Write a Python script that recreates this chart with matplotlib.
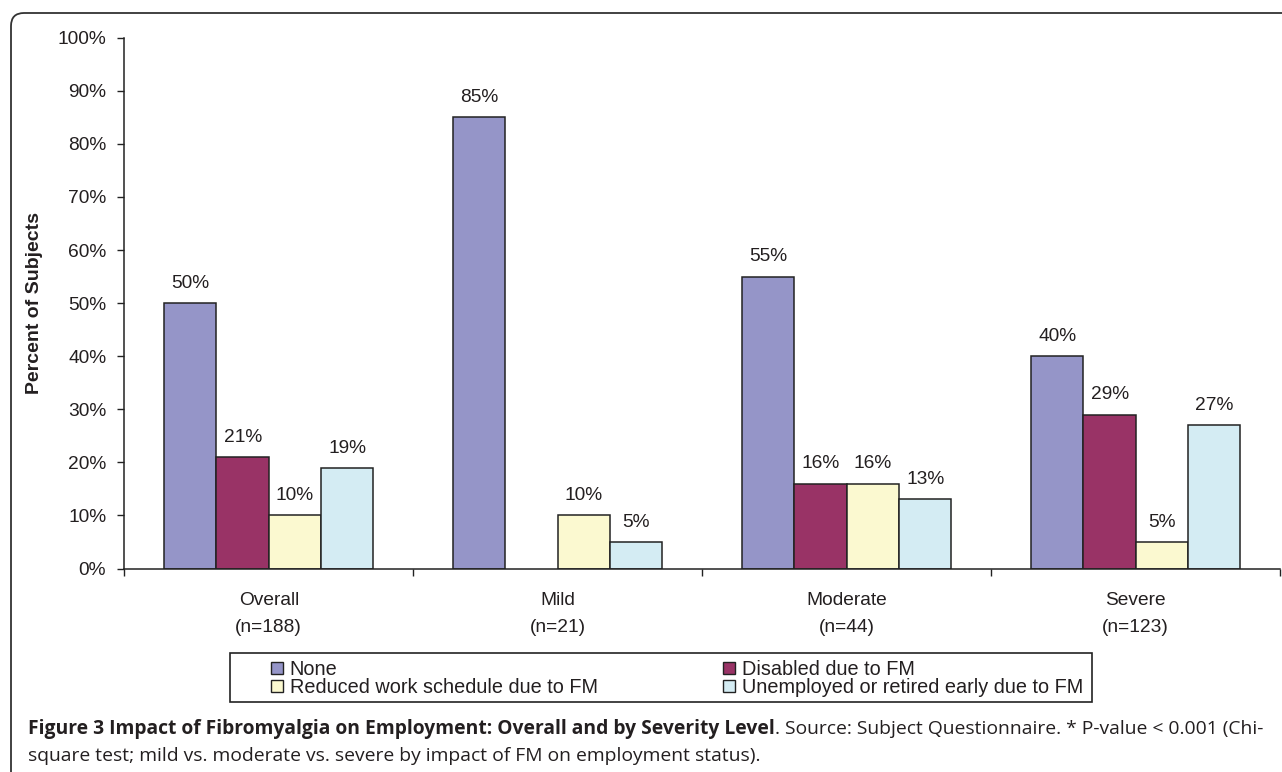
import numpy as np
import matplotlib
matplotlib.use('Agg')
import matplotlib.pyplot as plt
from matplotlib.patches import Patch, Rectangle, FancyBboxPatch

plt.rcParams['font.family'] = ['Liberation Sans', 'DejaVu Sans']

#chart data
categories = ['Overall\n(n=188)', 'Mild\n(n=21)', 'Moderate\n(n=44)', 'Severe\n(n=123)']
series_names = ['None', 'Disabled due to FM', 'Reduced work schedule due to FM',
                'Unemployed or retired early due to FM']
none_vals = [50, 85, 55, 40]
disabled_vals = [21, 0, 16, 29]
reduced_vals = [10, 10, 16, 5]
unemployed_vals = [19, 5, 13, 27]
yticks = [0, 10, 20, 30, 40, 50, 60, 70, 80, 90, 100]

colors = ['#9595c8', '#993366', '#fbf9d0', '#d4ecf3']
txt = '#231f20'

W, H = 1282, 772
fig = plt.figure(figsize=(W/100, H/100), dpi=100)
ax = fig.add_axes([124.3/W, 1-568.5/H, 1156/W, 530.8/H])

x = np.arange(len(categories))
w = 0.181
all_vals = [none_vals, disabled_vals, reduced_vals, unemployed_vals]
for i, vals in enumerate(all_vals):
    pos = x + (i - 1.5)*w
    for p, v in zip(pos, vals):
        if v == 0:
            continue
        ax.bar(p, v, width=w, color=colors[i], edgecolor='#222222', linewidth=1.1)
        ax.annotate('%d%%' % v, (p, v), xytext=(0, 8), textcoords='offset points',
                    ha='center', va='bottom', fontsize=13.8, color=txt)

ax.set_xlim(-0.5, 3.5)
ax.set_ylim(0, 100)
ax.set_yticks(yticks)
ax.set_yticklabels(['%d%%' % t for t in yticks])
ax.tick_params(axis='y', direction='out', length=5, width=1, pad=8,
               labelsize=13.8, labelcolor=txt, color='#222222')

#boundary ticks only, category names written below each group
ax.set_xticks(np.arange(-0.5, 4, 1))
ax.set_xticklabels([])
ax.tick_params(axis='x', which='major', direction='out', length=5, width=1, color='#222222')
for xi, lab in zip(x, categories):
    ax.annotate(lab, (xi, 0), xycoords=('data', 'axes fraction'), xytext=(0, -17),
                textcoords='offset points', ha='center', va='top', fontsize=13.8,
                color=txt, linespacing=1.75)

for s in ['top', 'right']:
    ax.spines[s].set_visible(False)
for s in ['left', 'bottom']:
    ax.spines[s].set_color('#222222')
    ax.spines[s].set_linewidth(1.1)

ax.set_ylabel('Percent of Subjects', fontsize=14, fontweight='bold', color=txt, va='center')
ax.yaxis.set_label_coords((35-124.3)/1156, 0.5)

#legend
handles = [Patch(facecolor=colors[k], edgecolor='#222222', linewidth=1) for k in [0, 2, 1, 3]]
labels = [series_names[k] for k in [0, 2, 1, 3]]
fig.add_artist(Rectangle((230/W, 1-702/H), 862/W, 49/H, transform=fig.transFigure,
                         fill=False, edgecolor='#222222', linewidth=1.2))
fig.legend(handles, labels, ncol=2, loc='upper left', bbox_to_anchor=(271/W, 1-660/H),
           frameon=False, fontsize=14.3, handlelength=0.6, handleheight=0.6,
           handletextpad=0.35, columnspacing=6.3, labelspacing=-0.05,
           borderpad=0, borderaxespad=0, labelcolor=txt)

#rounded outer frame
fig.add_artist(FancyBboxPatch((11/100, -1.0), 14.0, (H-13)/100 + 1.0,
                              boxstyle='round,pad=0,rounding_size=0.13',
                              transform=fig.dpi_scale_trans, fill=False,
                              edgecolor='#333333', linewidth=1.3))

#caption
cap_font = ['Open Sans', 'DejaVu Sans']
cap_size = 13.9
t1 = fig.text(28/W, 1-734/H, 'Figure 3 Impact of Fibromyalgia on Employment: Overall and by Severity Level',
              fontsize=cap_size, fontweight='bold', family=cap_font, color=txt, va='baseline')
fig.canvas.draw()
bb = t1.get_window_extent(fig.canvas.get_renderer())
fig.text(bb.x1/W, 1-734/H,
         '. Source: Subject Questionnaire. * P-value < 0.001 (Chi-',
         fontsize=cap_size, family=cap_font, color=txt, va='baseline')
fig.text(28/W, 1-761/H,
         'square test; mild vs. moderate vs. severe by impact of FM on employment status).',
         fontsize=cap_size, family=cap_font, color=txt, va='baseline')

fig.savefig('out.png', dpi=100)
